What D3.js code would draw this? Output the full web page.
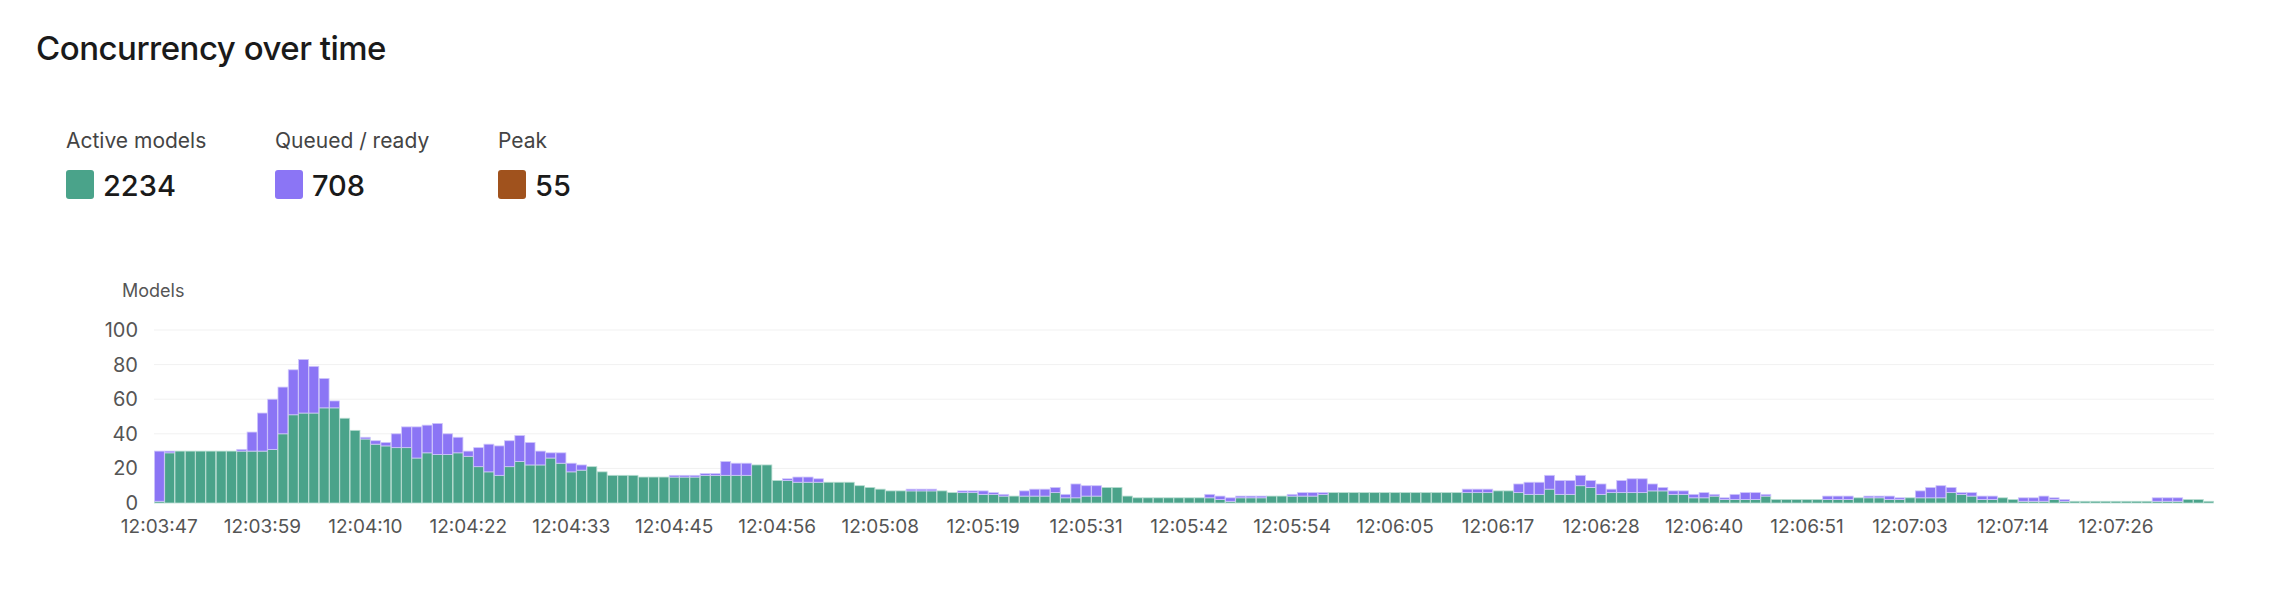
<!DOCTYPE html>
<html><head><meta charset="utf-8">
<script src="https://cdn.jsdelivr.net/npm/d3@7"></script>
<style>body{margin:0;background:#fff;font-family:Inter,"Noto Sans",sans-serif;}</style>
</head><body><svg id="c" width="2272" height="606"></svg>
<script>
const active = [1,29,30,30,30,30,30,30,30,30,30,31,40,51,52,52,55,55,49,42,
37,34,33,32,32,26,29,28,28,29,27,21,18,16,21,24,22,22,26,23,
18,19,21,18,16,16,16,15,15,15,15,15,15,16,16,16,16,16,22,22,
13,13,12,12,12,12,12,12,10,9,8,7,7,7,7,7,7,6,6,6,
5,5,4,4,4,4,4,6,3,3,4,4,9,9,4,3,3,3,3,3,
3,3,3,2,1,3,3,3,4,4,4,4,4,5,6,6,6,6,6,6,
6,6,6,6,6,6,6,6,6,6,7,7,6,5,5,8,5,5,10,9,
5,6,6,6,6,7,7,5,5,3,3,4,2,2,2,2,4,2,2,2,
2,2,2,2,2,3,3,3,2,2,3,3,3,3,6,5,4,2,2,3,
2,1,1,1,2,1,1,1,1,1,1,1,1,1,1,1,1,2,2,1];
const queued = [29,1,0,0,0,0,0,0,1,11,22,29,27,26,31,27,17,4,0,0,
1,2,2,8,12,18,16,18,12,9,3,11,16,17,15,15,13,8,3,6,
5,3,0,0,0,0,0,0,0,0,1,1,1,1,1,8,7,7,0,0,
0,1,3,3,2,0,0,0,0,0,0,0,0,1,1,1,0,0,1,1,
2,1,1,0,3,4,4,3,2,8,6,6,0,0,0,0,0,0,0,0,
0,0,2,2,2,1,1,1,0,0,1,2,2,1,0,0,0,0,0,0,
0,0,0,0,0,0,0,2,2,2,0,0,5,7,7,8,8,8,6,4,
6,2,7,8,8,4,2,2,2,2,3,1,1,3,4,4,1,0,0,0,
0,0,2,2,2,0,1,1,2,1,0,4,6,7,3,1,2,2,2,0,
0,2,2,3,1,1,0,0,0,0,0,0,0,0,2,2,2,0,0,0];
const tickIndex = [0,10,20,30,40,50,60,70,80,90,100,110,120,130,140,150,160,170,180,190];
const tickLabels = ["12:03:47","12:03:59","12:04:10","12:04:22","12:04:33","12:04:45","12:04:56","12:05:08","12:05:19","12:05:31","12:05:42","12:05:54","12:06:05","12:06:17","12:06:28","12:06:40","12:06:51","12:07:03","12:07:14","12:07:26"];
const yTicks = [0,20,40,60,80,100];
const legend = [{label:"Active models",value:"2234",color:"#4aa38a"},{label:"Queued / ready",value:"708",color:"#8b75f5"},{label:"Peak",value:"55",color:"#a0521d"}];

const svg = d3.select("#c");
svg.append("text").attr("x",36).attr("y",60).attr("font-size",33).attr("font-weight",500).attr("letter-spacing",-0.5).attr("fill","#1a1a1a").text("Concurrency over time");
const lx=[66,275,498];
legend.forEach((d,i)=>{
  svg.append("text").attr("x",lx[i]).attr("y",148).attr("font-size",21).attr("fill","#444").text(d.label);
  svg.append("rect").attr("x",lx[i]).attr("y",170).attr("width",28).attr("height",29).attr("rx",3).attr("fill",d.color);
  svg.append("text").attr("x",lx[i]+37).attr("y",196).attr("font-size",29).attr("font-weight",500).attr("fill","#1a1a1a").text(d.value);
});
const x = d3.scaleBand().domain(d3.range(active.length)).range([154,2214]).padding(0.04);
const y = d3.scaleLinear().domain([0,100]).range([503,330]);
svg.append("text").attr("x",122).attr("y",297).attr("font-size",18).attr("fill","#555").text("Models");
const g = svg.append("g");
g.selectAll("line.grid").data(yTicks.slice(1)).join("line").attr("x1",154).attr("x2",2214)
 .attr("y1",d=>y(d)).attr("y2",d=>y(d)).attr("stroke","#f1f1f1");
g.selectAll("text.yt").data(yTicks).join("text").attr("x",138).attr("y",d=>y(d)+7)
 .attr("text-anchor","end").attr("font-size",20).attr("fill","#555").text(d=>d);
g.selectAll("rect.a").data(active).join("rect").attr("x",(d,i)=>x(i)).attr("width",x.bandwidth())
 .attr("y",d=>y(d)).attr("height",d=>y(0)-y(d)).attr("fill","#4aa38a").attr("stroke","#b9ddd2").attr("stroke-width",0.8);
g.selectAll("rect.q").data(queued).join("rect").attr("x",(d,i)=>x(i)).attr("width",x.bandwidth())
 .attr("y",(d,i)=>y(active[i]+d)).attr("height",(d,i)=>d?y(active[i])-y(active[i]+d):0).attr("fill","#8b75f5").attr("stroke","#cfc6fb").attr("stroke-width",0.8);
g.selectAll("text.xt").data(tickIndex).join("text").attr("x",d=>x(d)+x.bandwidth()/2).attr("y",533)
 .attr("text-anchor","middle").attr("font-size",19).attr("fill","#555").text((d,i)=>tickLabels[i]);
</script></body></html>
